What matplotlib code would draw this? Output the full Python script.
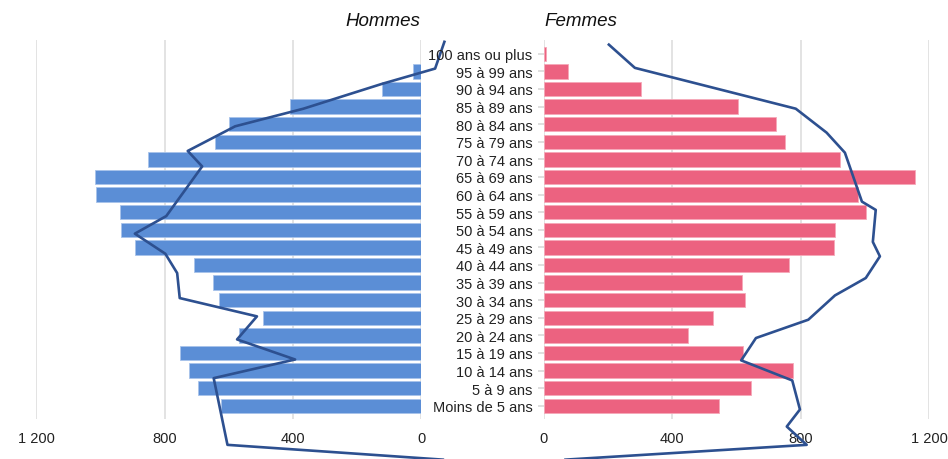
import numpy as np
import matplotlib
matplotlib.use("Agg")
import matplotlib.pyplot as plt
from matplotlib.ticker import FuncFormatter

plt.rcParams['font.family'] = ['Liberation Sans', 'DejaVu Sans']

# Données : classes d'âge (du bas vers le haut)
ages = ["Moins de 5 ans", "5 à 9 ans", "10 à 14 ans", "15 à 19 ans", "20 à 24 ans",
        "25 à 29 ans", "30 à 34 ans", "35 à 39 ans", "40 à 44 ans", "45 à 49 ans",
        "50 à 54 ans", "55 à 59 ans", "60 à 64 ans", "65 à 69 ans", "70 à 74 ans",
        "75 à 79 ans", "80 à 84 ans", "85 à 89 ans", "90 à 94 ans", "95 à 99 ans",
        "100 ans ou plus"]
hommes = [623, 696, 725, 751, 567, 494, 630, 650, 710, 894, 937,
          938, 1013, 1016, 853, 642, 600, 410, 121, 24, 0]
femmes = [546, 646, 777, 620, 448, 528, 626, 617, 764, 904, 907,
          1004, 979, 1156, 924, 751, 722, 605, 302, 75, 7]

# Courbes de comparaison (position en classes d'âge, effectif)
ligne_h_pos = [20.68, 19.16, 18.29, 16.88, 15.88, 14.48, 13.60, 10.78, 9.78, 8.64,
               7.54, 6.12, 5.08, 3.77, 2.63, 1.57, -2.22, -3.06]
ligne_h_val = [-73, -44, 122, 367, 580, 728, 683, 795, 893, 798,
               761, 753, 512, 574, 393, 647, 604, -68]
ligne_f_pos = [20.52, 19.20, 16.88, 15.52, 14.38, 11.60, 11.13, 9.31, 8.49, 7.26,
               6.27, 4.89, 3.85, 2.58, 1.44, -0.21, -1.18, -2.22, -3.06]
ligne_f_val = [203, 284, 785, 881, 938, 991, 1034, 1025, 1047, 1003,
               907, 824, 661, 615, 774, 798, 757, 819, 68]

ticks = [0, 400, 800, 1200]

bleu = '#5b8ed6'
rose = '#ec6280'
ligne = '#2d5090'
grille = '#e3e3e3'

fig = plt.figure(figsize=(9.48, 4.6), dpi=100)
ax_h = fig.add_axes([0.0385, 0.087, 0.4056, 0.8245])
ax_f = fig.add_axes([0.5735, 0.087, 0.4065, 0.8245])

pos = np.arange(len(ages))
fmt = FuncFormatter(lambda v, p: f"{int(v):,}".replace(",", " "))

for ax in (ax_h, ax_f):
    ax.set_ylim(-0.75, 20.8)
    ax.set_xlim(0, 1200)
    ax.set_xticks(ticks)
    ax.xaxis.set_major_formatter(fmt)
    ax.grid(axis='x', color=grille, linewidth=1.4)
    ax.set_axisbelow(True)
    for s in ax.spines.values():
        s.set_visible(False)
    ax.tick_params(axis='x', length=0, pad=9, labelsize=10.5, labelcolor='#222222')

ax_h.barh(pos, hommes, height=0.82, color=bleu, edgecolor='#a8c3ea', linewidth=0.6)
ax_f.barh(pos, femmes, height=0.82, color=rose, edgecolor='#f6a8b8', linewidth=0.6)

ax_h.invert_xaxis()
ax_h.set_yticks([])

ax_f.set_yticks(pos)
ax_f.set_yticklabels(ages)
ax_f.tick_params(axis='y', length=4.5, width=1.1, color='#d6d6d6', pad=3.5,
                 labelsize=10.5, labelcolor='#222222')

ax_h.plot(ligne_h_val, ligne_h_pos, color=ligne, linewidth=1.9, clip_on=False, zorder=5)
ax_f.plot(ligne_f_val, ligne_f_pos, color=ligne, linewidth=1.9, clip_on=False, zorder=5)

fig.text(420 / 948, 1 - 21.5 / 460, "Hommes", ha='right', va='center',
         fontsize=13.5, fontstyle='italic', color='#111111')
fig.text(544 / 948, 1 - 21.5 / 460, "Femmes", ha='left', va='center',
         fontsize=13.5, fontstyle='italic', color='#111111')

fig.savefig("out.png", dpi=100)
